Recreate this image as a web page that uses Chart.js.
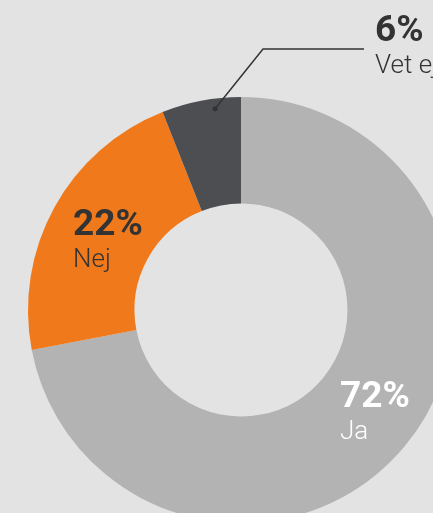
<!DOCTYPE html>
<html>
<head>
<meta charset="utf-8">
<script src="https://cdn.jsdelivr.net/npm/chart.js@4/dist/chart.umd.min.js"></script>
<style>
    html, body { margin: 0; padding: 0; background: #e3e3e3; overflow: hidden; }
    #wrap { position: relative; width: 433px; height: 513px; overflow: hidden; }
    #answers { position: absolute; left: 0; top: 0; }
</style>
</head>
<body>
<div id="wrap">
    <canvas id="answers" width="482" height="620"></canvas>
</div>
<script>
const categories = ['Ja', 'Nej', 'Vet ej'];
const shares = [72, 22, 6];
const sliceColors = ['#b3b3b3', '#f07a1b', '#4c4e51'];

// Labels drawn on top of the doughnut (percent + answer)
const labelPlugin = {
    id: 'answerLabels',
    afterDraw(chart) {
        const ctx = chart.ctx;
        const spots = [
            { x: 340, y: 407, color: '#ffffff' },  // Ja
            { x: 73, y: 235, color: '#333333' },   // Nej
            { x: 375, y: 41, color: '#333333' },   // Vet ej
        ];
        ctx.save();
        ctx.textAlign = 'left';
        ctx.textBaseline = 'alphabetic';
        categories.forEach((name, i) => {
            const s = spots[i];
            ctx.fillStyle = s.color;
            ctx.font = 'bold 37px Roboto';
            ctx.fillText(shares[i] + '%', s.x, s.y);
            ctx.font = '300 26px Roboto';
            ctx.fillText(name, s.x, s.y + 32);
        });

        // leader line for the small slice
        const arc = chart.getDatasetMeta(0).data[2];
        const ang = arc.startAngle + (arc.endAngle - arc.startAngle) * 0.66;
        const r = arc.outerRadius - 10;
        const px = arc.x + Math.cos(ang) * r;
        const py = arc.y + Math.sin(ang) * r;
        ctx.strokeStyle = '#333333';
        ctx.lineWidth = 1.5;
        ctx.beginPath();
        ctx.moveTo(px, py);
        ctx.lineTo(263, 49);
        ctx.lineTo(364, 49);
        ctx.stroke();
        ctx.fillStyle = '#333333';
        ctx.beginPath();
        ctx.arc(px, py, 2.5, 0, Math.PI * 2);
        ctx.fill();
        ctx.restore();
    }
};

new Chart(document.getElementById('answers'), {
    type: 'doughnut',
    data: {
        labels: categories,
        datasets: [{
            data: shares,
            backgroundColor: sliceColors,
            borderWidth: 0,
        }],
    },
    options: {
        responsive: false,
        animation: false,
        cutout: '50%',
        layout: {
            padding: { left: 28, right: 28, top: 97, bottom: 97 },
        },
        plugins: {
            legend: { display: false },
            tooltip: { enabled: false },
        },
    },
    plugins: [labelPlugin],
});
</script>
</body>
</html>
